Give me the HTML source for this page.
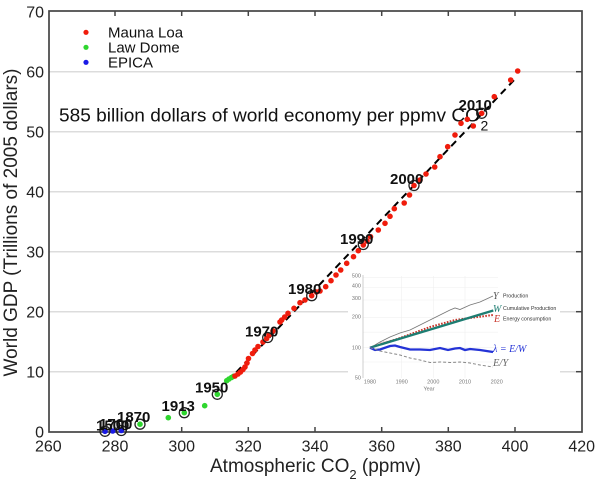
<!DOCTYPE html>
<html>
<head>
<meta charset="utf-8">
<style>
html,body{margin:0;padding:0;background:#fff;}
svg{display:block;font-family:"Liberation Sans",sans-serif;}
</style>
</head>
<body>
<svg width="600" height="483" viewBox="0 0 600 483" xmlns="http://www.w3.org/2000/svg">
<rect x="0" y="0" width="600" height="483" fill="#fff"/>
<!-- gridlines -->
<g stroke="#dcdcdc" stroke-width="1.5">
<line x1="49" y1="371.7" x2="582" y2="371.7"/>
<line x1="49" y1="311.7" x2="582" y2="311.7"/>
<line x1="49" y1="251.7" x2="582" y2="251.7"/>
<line x1="49" y1="191.7" x2="582" y2="191.7"/>
<line x1="49" y1="131.7" x2="582" y2="131.7"/>
<line x1="49" y1="71.7" x2="582" y2="71.7"/>
</g>
<!-- ticks -->
<g stroke="#444" stroke-width="1.5">
<line x1="115" y1="11" x2="115" y2="16"/><line x1="181.7" y1="11" x2="181.7" y2="16"/><line x1="248.3" y1="11" x2="248.3" y2="16"/><line x1="315" y1="11" x2="315" y2="16"/><line x1="381.7" y1="11" x2="381.7" y2="16"/><line x1="448.3" y1="11" x2="448.3" y2="16"/><line x1="515" y1="11" x2="515" y2="16"/>
<line x1="115" y1="432" x2="115" y2="427"/><line x1="181.7" y1="432" x2="181.7" y2="427"/><line x1="248.3" y1="432" x2="248.3" y2="427"/><line x1="315" y1="432" x2="315" y2="427"/><line x1="381.7" y1="432" x2="381.7" y2="427"/><line x1="448.3" y1="432" x2="448.3" y2="427"/><line x1="515" y1="432" x2="515" y2="427"/>
<line x1="582" y1="371.7" x2="576" y2="371.7"/><line x1="582" y1="311.7" x2="576" y2="311.7"/><line x1="582" y1="251.7" x2="576" y2="251.7"/><line x1="582" y1="191.7" x2="576" y2="191.7"/><line x1="582" y1="131.7" x2="576" y2="131.7"/><line x1="582" y1="71.7" x2="576" y2="71.7"/>
</g>
<rect x="49" y="11" width="533" height="421" fill="none" stroke="#444" stroke-width="1.7"/>

<!-- tick labels -->
<g font-size="16" fill="#222" text-anchor="end">
<text x="44" y="437.4">0</text>
<text x="44" y="377.4">10</text>
<text x="44" y="317.4">20</text>
<text x="44" y="257.4">30</text>
<text x="44" y="197.4">40</text>
<text x="44" y="137.4">50</text>
<text x="44" y="77.4">60</text>
<text x="44" y="17.4">70</text>
</g>
<g font-size="16" fill="#222" text-anchor="middle">
<text x="48.3" y="451.7">260</text>
<text x="115" y="451.7">280</text>
<text x="181.7" y="451.7">300</text>
<text x="248.3" y="451.7">320</text>
<text x="315" y="451.7">340</text>
<text x="381.7" y="451.7">360</text>
<text x="448.3" y="451.7">380</text>
<text x="515" y="451.7">400</text>
<text x="581.7" y="451.7">420</text>
</g>
<!-- axis titles -->
<text x="210" y="472" font-size="19" fill="#222">Atmospheric CO<tspan font-size="13" dy="7">2</tspan><tspan dy="-7"> (ppmv)</tspan></text>
<text transform="translate(17,222.5) rotate(-90)" font-size="19" fill="#222" text-anchor="middle">World GDP (Trillions of 2005 dollars)</text>

<!-- legend -->
<circle cx="86" cy="32.3" r="2.6" fill="#f01c0c"/>
<circle cx="86" cy="47.3" r="2.6" fill="#2fd62f"/>
<circle cx="86" cy="62.3" r="2.6" fill="#1a1ae6"/>
<g font-size="15" fill="#111">
<text x="108" y="37.4">Mauna Loa</text>
<text x="108" y="52.4">Law Dome</text>
<text x="108" y="67.4">EPICA</text>
</g>

<!-- annotation -->
<text x="59" y="121.3" font-size="18" fill="#111" textLength="421" lengthAdjust="spacingAndGlyphs">585 billion dollars of world economy per ppmv CO</text>
<text x="480.5" y="130.7" font-size="14" fill="#111">2</text>

<!-- inset -->
<rect x="348" y="264" width="212" height="131" fill="#fff"/>
<g stroke="#f0f0f0" stroke-width="0.6">
<line x1="363" y1="277.7" x2="498" y2="277.7"/>
<line x1="363" y1="287.5" x2="498" y2="287.5"/>
<line x1="363" y1="300" x2="498" y2="300"/>
<line x1="363" y1="317.6" x2="498" y2="317.6"/>
<line x1="363" y1="332.2" x2="498" y2="332.2"/>
<line x1="363" y1="347.7" x2="498" y2="347.7"/>
<line x1="363" y1="362" x2="498" y2="362"/>
<line x1="401.7" y1="276" x2="401.7" y2="378"/>
<line x1="433.3" y1="276" x2="433.3" y2="378"/>
<line x1="465" y1="276" x2="465" y2="378"/>
</g>
<line x1="363" y1="275" x2="363" y2="378" stroke="#bbb" stroke-width="0.7"/>
<g font-size="5.5" fill="#777" text-anchor="end">
<text x="361" y="277.5">500</text>
<text x="361" y="287.5">400</text>
<text x="361" y="300">300</text>
<text x="361" y="318.5">200</text>
<text x="361" y="349.5">100</text>
<text x="361" y="379.5">50</text>
</g>
<g font-size="5.5" fill="#777" text-anchor="middle">
<text x="370" y="383.5">1980</text>
<text x="401.7" y="383.5">1990</text>
<text x="433.3" y="383.5">2000</text>
<text x="465" y="383.5">2010</text>
<text x="496.7" y="383.5">2020</text>
<text x="429" y="390.5">Year</text>
</g>
<path d="M380,343 L400,339 L420,332 L440,327" fill="none" stroke="#f2b8b8" stroke-width="1.8" stroke-dasharray="1.5,1.5"/>
<path d="M370,347.7 L375,345 L380,342 L390,337 L400,333 L410,330 L420,325 L430,320 L440,315 L450,310 L455,308 L460,309.5 L470,305 L480,302 L493,296" fill="none" stroke="#777" stroke-width="0.9"/>
<path d="M370,347.7 L400,338 L430,327 L455,320 L470,318 L493,315" fill="none" stroke="#c8342a" stroke-width="2" stroke-dasharray="1.6,1.4"/>
<path d="M370,347.7 L493.3,310.5" fill="none" stroke="#1d7d72" stroke-width="2.3"/>
<path d="M370,347.7 L375,350 L380,349.5 L390,346 L395,345.5 L400,347 L410,349.5 L420,349.5 L430,350 L440,348 L448,350 L455,348.5 L460,348 L465,350 L470,349 L480,350 L493,352" fill="none" stroke="#2433d6" stroke-width="2.3"/>
<path d="M370,347.7 L380,351 L390,353 L400,355 L410,358 L420,360 L430,362.5 L440,362 L450,362.5 L460,362 L470,363 L480,365 L493,367" fill="none" stroke="#888" stroke-width="1" stroke-dasharray="3,2"/>
<g font-family="Liberation Serif,serif" font-style="italic">
<text x="493" y="299" font-size="10" fill="#555">Y</text>
<text x="493" y="312" font-size="10" fill="#1d7d72">W</text>
<text x="494" y="322" font-size="10" fill="#c8342a">E</text>
<text x="493" y="352" font-size="10" fill="#2433d6">λ = E/W</text>
<text x="493" y="366" font-size="10.5" fill="#666">E/Y</text>
</g>
<g font-size="5.3" fill="#333">
<text x="503" y="297.5">Production</text>
<text x="503" y="310">Cumulative Production</text>
<text x="503" y="320.5">Energy consumption</text>
</g>

<!-- dashed fit line -->
<line x1="228" y1="381" x2="516" y2="78" stroke="#000" stroke-width="2" stroke-dasharray="7,5"/>

<!-- EPICA -->
<g fill="#1a1ae6">
<circle cx="105" cy="431.3" r="2.8"/>
<circle cx="112.7" cy="431" r="2.8"/>
<circle cx="121.3" cy="430.5" r="2.8"/>
</g>
<!-- Law Dome -->
<g fill="#2fd62f">
<circle cx="140" cy="424.2" r="2.8"/>
<circle cx="168.3" cy="417.7" r="2.8"/>
<circle cx="184.3" cy="412.7" r="2.8"/>
<circle cx="204.7" cy="405.7" r="2.8"/>
<circle cx="217.3" cy="394.3" r="2.8"/>
<circle cx="226.7" cy="380.7" r="2.8"/>
<circle cx="229" cy="379" r="2.8"/>
<circle cx="231.5" cy="377.5" r="2.8"/>
<circle cx="233.5" cy="376.3" r="2.8"/>
</g>
<!-- Mauna Loa -->
<g fill="#f01c0c">
<circle cx="235" cy="376" r="2.8"/><circle cx="238" cy="374" r="2.8"/><circle cx="240.5" cy="372" r="2.8"/><circle cx="243" cy="369.5" r="2.8"/><circle cx="245" cy="367" r="2.8"/><circle cx="247" cy="363" r="2.8"/><circle cx="248.5" cy="358.5" r="2.8"/><circle cx="252.5" cy="353.5" r="2.8"/><circle cx="255" cy="350" r="2.8"/><circle cx="258" cy="346.5" r="2.8"/><circle cx="263" cy="342" r="2.8"/><circle cx="266.7" cy="338.5" r="2.8"/><circle cx="269" cy="335" r="2.8"/><circle cx="273" cy="331" r="2.8"/><circle cx="280" cy="322" r="2.8"/><circle cx="281.7" cy="320" r="2.8"/><circle cx="284.7" cy="317" r="2.8"/><circle cx="288" cy="313.3" r="2.8"/><circle cx="294" cy="308.3" r="2.8"/><circle cx="300" cy="302.7" r="2.8"/><circle cx="305" cy="300" r="2.8"/><circle cx="311.7" cy="295.7" r="2.8"/><circle cx="316.5" cy="292" r="2.8"/><circle cx="320" cy="291" r="2.8"/><circle cx="325.7" cy="286.7" r="2.8"/><circle cx="331" cy="280.7" r="2.8"/><circle cx="336" cy="275" r="2.8"/><circle cx="340.7" cy="270" r="2.8"/><circle cx="346.7" cy="263.3" r="2.8"/><circle cx="353.5" cy="256.7" r="2.8"/><circle cx="358.3" cy="250.7" r="2.8"/><circle cx="363.3" cy="245" r="2.8"/><circle cx="367" cy="241" r="2.8"/><circle cx="370.5" cy="236.7" r="2.8"/><circle cx="378.3" cy="230" r="2.8"/><circle cx="385" cy="223.3" r="2.8"/><circle cx="390" cy="216.3" r="2.8"/><circle cx="394.3" cy="208.7" r="2.8"/><circle cx="404.2" cy="203" r="2.8"/><circle cx="409.5" cy="195" r="2.8"/><circle cx="414" cy="185.5" r="2.8"/><circle cx="420" cy="180" r="2.8"/><circle cx="426" cy="174" r="2.8"/><circle cx="434.7" cy="167" r="2.8"/><circle cx="440" cy="156.7" r="2.8"/><circle cx="447.7" cy="146.7" r="2.8"/><circle cx="455" cy="135" r="2.8"/><circle cx="461" cy="123.3" r="2.8"/><circle cx="467.3" cy="119.3" r="2.8"/><circle cx="473.3" cy="126" r="2.8"/><circle cx="481.7" cy="113.3" r="2.8"/><circle cx="494.3" cy="96.7" r="2.8"/><circle cx="510.7" cy="80" r="2.8"/><circle cx="517.7" cy="71" r="2.8"/>
</g>
<!-- year circles -->
<g fill="none" stroke="#222" stroke-width="1.3">
<circle cx="105" cy="431.3" r="5"/>
<circle cx="121.3" cy="430.5" r="5"/>
<circle cx="140" cy="424.2" r="5"/>
<circle cx="184.3" cy="412.7" r="5"/>
<circle cx="217.3" cy="394.3" r="5"/>
<circle cx="267.7" cy="337.5" r="5"/>
<circle cx="311.7" cy="295.7" r="5"/>
<circle cx="363.3" cy="244.5" r="5"/>
<circle cx="414" cy="185.5" r="5"/>
<circle cx="481.7" cy="113.3" r="5"/>
</g>
<!-- year labels -->
<g font-size="15" font-weight="bold" fill="#111">
<text x="99" y="429">1700</text>
<text x="96" y="430.5">1500</text>
<text x="117" y="422">1870</text>
<text x="161.5" y="411">1913</text>
<text x="195" y="392.7">1950</text>
<text x="245" y="336.3">1970</text>
<text x="288" y="294">1980</text>
<text x="340" y="244">1990</text>
<text x="390" y="184">2000</text>
<text x="458.5" y="110">2010</text>
</g>
</svg>
</body>
</html>
